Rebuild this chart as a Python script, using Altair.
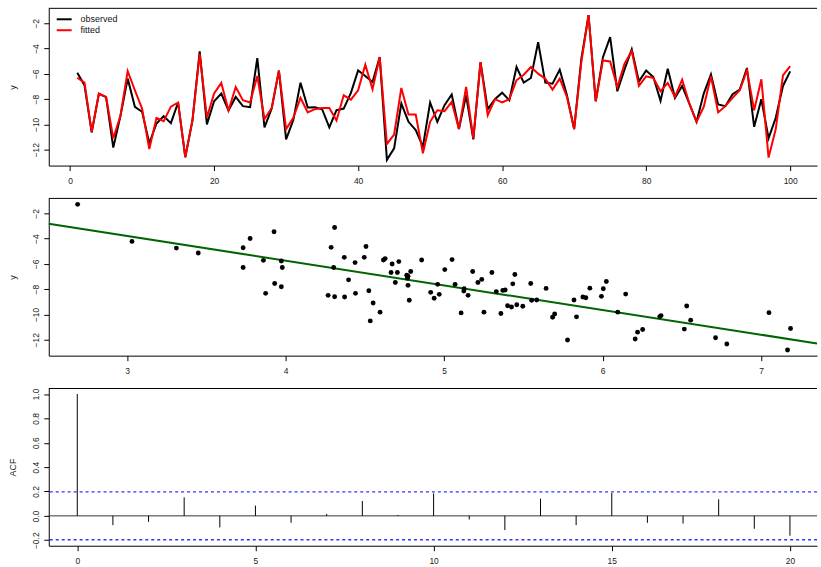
import altair as alt
import pandas as pd

# ---------------- data ----------------
t = list(range(1, 101))
observed = [-5.91, -6.9, -10.64, -7.59, -7.85, -11.84, -9.32, -6.38, -8.61, -9.0,
            -11.5, -9.93, -9.35, -9.9, -8.27, -12.6, -9.66, -4.23, -10.0, -8.17,
            -7.56, -8.9, -7.83, -8.56, -8.64, -4.76, -10.24, -8.75, -5.75, -11.19,
            -9.66, -6.7, -8.67, -8.64, -8.8, -10.24, -8.88, -8.75, -7.51, -5.73,
            -6.17, -6.65, -4.68, -12.81, -11.9, -8.35, -9.8, -10.45, -11.76, -8.27,
            -9.8, -8.48, -7.64, -10.37, -7.7, -11.19, -5.07, -8.8, -8.01, -7.49,
            -8.09, -5.46, -6.7, -6.33, -3.5, -6.7, -6.78, -5.67, -7.7, -10.37,
            -4.81, -1.35, -8.17, -4.68, -3.1, -7.38, -5.65, -4.07, -6.6, -5.73,
            -6.25, -8.14, -5.6, -7.9, -6.96, -8.35, -9.8, -7.56, -6.04, -8.43,
            -8.56, -7.62, -7.25, -5.54, -10.19, -8.01, -11.1, -9.48, -6.96, -5.81]
fitted = [-6.31, -6.7, -10.6, -7.56, -7.82, -11.1, -9.3, -5.78, -7.3, -8.75,
          -11.95, -9.48, -9.74, -8.6, -8.27, -12.6, -9.66, -4.42, -9.45, -7.56,
          -6.72, -8.9, -7.04, -8.09, -8.27, -6.17, -9.58, -8.7, -5.75, -10.37,
          -9.48, -7.9, -9.06, -8.8, -8.7, -8.7, -9.69, -7.7, -8.04, -7.3,
          -5.28, -7.22, -4.68, -11.55, -10.8, -7.12, -9.22, -9.22, -12.29, -9.8,
          -8.88, -8.96, -8.22, -10.37, -7.04, -11.1, -5.07, -9.27, -8.01, -8.27,
          -8.01, -6.51, -6.07, -5.46, -5.99, -6.38, -7.25, -6.38, -7.83, -10.37,
          -5.07, -1.35, -8.17, -4.94, -5.02, -7.04, -5.2, -4.2, -6.96, -6.2,
          -6.33, -7.38, -6.72, -7.83, -6.46, -8.35, -9.8, -8.61, -6.2, -9.06,
          -8.56, -7.9, -7.3, -5.73, -8.88, -6.43, -12.63, -10.37, -6.12, -5.39]

scatter_x = [2.688, 3.031, 3.311, 3.449, 3.732, 3.732, 3.776, 3.860, 3.927, 3.874,
             3.931, 3.973, 3.979, 3.973, 4.309, 4.287, 4.303, 4.268, 4.309, 4.370,
             4.397, 4.372, 4.438, 4.441, 4.507, 4.496, 4.525, 4.552, 4.534, 4.596,
             4.617, 4.628, 4.672, 4.714, 4.665, 4.705, 4.692, 4.764, 4.772, 4.789,
             4.768, 4.772, 4.780, 4.858, 4.915, 4.937, 4.959, 4.969, 5.004, 5.050,
             5.069, 5.107, 5.124, 5.126, 5.151, 5.180, 5.213, 5.237, 5.251, 5.301,
             5.329, 5.358, 5.370, 5.385, 5.400, 5.425, 5.433, 5.446, 5.458, 5.496,
             5.546, 5.552, 5.584, 5.643, 5.684, 5.697, 5.778, 5.819, 5.835, 5.875,
             5.894, 5.919, 5.992, 6.004, 6.023, 6.095, 6.145, 6.205, 6.220, 6.252,
             6.360, 6.368, 6.515, 6.530, 6.555, 6.712, 6.783, 7.049, 7.166, 7.185]
scatter_y = [-1.29, -4.22, -4.75, -5.14, -4.72, -6.29, -3.99, -5.72, -3.46, -8.33,
             -7.55, -5.77, -6.29, -7.81, -3.12, -4.69, -6.29, -8.49, -8.60, -5.48,
             -7.26, -8.62, -5.90, -8.33, -4.62, -5.48, -8.13, -9.09, -10.51, -9.82,
             -5.69, -5.58, -6.01, -5.82, -6.68, -6.68, -7.47, -6.89, -6.97, -6.60,
             -7.13, -7.70, -8.88, -5.69, -8.25, -8.72, -7.62, -8.41, -6.45, -5.66,
             -7.62, -9.88, -8.15, -7.97, -8.49, -6.60, -7.47, -7.23, -9.82, -6.68,
             -8.19, -9.93, -8.10, -8.07, -9.31, -9.41, -7.58, -6.84, -9.23, -9.35,
             -7.55, -8.88, -8.86, -7.94, -10.22, -9.96, -12.02, -8.86, -10.19, -8.62,
             -8.68, -7.92, -8.57, -7.97, -7.39, -9.82, -8.39, -11.94, -11.40, -11.19,
             -10.17, -10.09, -11.16, -9.33, -10.45, -11.84, -12.34, -9.86, -12.81, -11.11]
reg_intercept = 2.064
reg_slope = -1.953

lags = list(range(21))
acf_values = [1.0, -0.076, -0.049, 0.152, -0.095, 0.084, -0.057, 0.016, 0.122, 0.008,
              0.184, -0.03, -0.117, 0.141, -0.076, 0.188, -0.057, -0.063, 0.136, -0.106,
              -0.163]
ci_level = 0.196

series_labels = ["observed", "fitted"]
series_colors = ["black", "red"]

ts_ticks = [0, 20, 40, 60, 80, 100]
y_ticks = [-12, -10, -8, -6, -4, -2]
sc_ticks = [3, 4, 5, 6, 7]
acf_xticks = [0, 5, 10, 15, 20]
acf_yticks = [-0.2, 0.0, 0.2, 0.4, 0.6, 0.8, 1.0]

# ---------------- layout ----------------
FONT = "Liberation Sans"
W, H = 772, 158
one = pd.DataFrame({"a": [0]})


def xaxis(vals, fmt):
    return alt.Axis(values=vals, title=None, format=fmt, labelPadding=6)


def yaxis(vals, title, fmt):
    return alt.Axis(values=vals, title=title, format=fmt, labelAngle=-90,
                    labelAlign="center", labelBaseline="bottom", labelPadding=3,
                    titleX=-36, titleAngle=-90, titleBaseline="middle")


def top_border():
    return alt.Chart(one).mark_rule(color="black", strokeWidth=1).encode(
        x=alt.value(0), x2=alt.value(W), y=alt.value(0))


# Panel 1: time series
ts_df = pd.DataFrame({"t": t, "observed": observed, "fitted": fitted})
xs1 = alt.Scale(domain=[-2.96, 103.73], nice=False, zero=False)
ys = alt.Scale(domain=[-13.26, -0.82], nice=False, zero=False)
xa1 = xaxis(ts_ticks, "d")
ya1 = yaxis(y_ticks, "y", "d")

obs_line = alt.Chart(ts_df).mark_line(color=series_colors[0], strokeWidth=2).encode(
    x=alt.X("t:Q", scale=xs1, axis=xa1), y=alt.Y("observed:Q", scale=ys, axis=ya1))
fit_line = alt.Chart(ts_df).mark_line(color=series_colors[1], strokeWidth=2).encode(
    x=alt.X("t:Q", scale=xs1, axis=xa1), y=alt.Y("fitted:Q", scale=ys, axis=ya1))

legend_layers = []
for i, (lab, col) in enumerate(zip(series_labels, series_colors)):
    yy = 11 + 11 * i
    legend_layers.append(alt.Chart(one).mark_rule(color=col, strokeWidth=2).encode(
        x=alt.value(8), x2=alt.value(23), y=alt.value(yy)))
    legend_layers.append(alt.Chart(one).mark_text(
        align="left", baseline="middle", fontSize=9, font=FONT, color="#111").encode(
        x=alt.value(32), y=alt.value(yy), text=alt.value(lab)))

p1 = alt.layer(top_border(), obs_line, fit_line, *legend_layers).properties(width=W, height=H)

# Panel 2: scatter with regression line
sc_df = pd.DataFrame({"x": scatter_x, "y": scatter_y})
x2dom = [2.506, 7.352]
xs2 = alt.Scale(domain=x2dom, nice=False, zero=False)
xa2 = xaxis(sc_ticks, "d")
ya2 = yaxis(y_ticks, "y", "d")
pts = alt.Chart(sc_df).mark_circle(color="black", size=24, opacity=1).encode(
    x=alt.X("x:Q", scale=xs2, axis=xa2), y=alt.Y("y:Q", scale=ys, axis=ya2))
line_df = pd.DataFrame({"x": x2dom, "y": [reg_intercept + reg_slope * v for v in x2dom]})
reg = alt.Chart(line_df).mark_line(color="#006400", strokeWidth=2).encode(
    x=alt.X("x:Q", scale=xs2, axis=xa2), y=alt.Y("y:Q", scale=ys, axis=ya2))
p2 = alt.layer(top_border(), reg, pts).properties(width=W, height=H)

# Panel 3: ACF
acf_df = pd.DataFrame({"lag": lags, "acf": acf_values, "zero": [0.0] * len(lags)})
xs3 = alt.Scale(domain=[-0.8, 20.76], nice=False, zero=False)
ys3 = alt.Scale(domain=[-0.245, 1.045], nice=False, zero=False)
xa3 = xaxis(acf_xticks, "d")
ya3 = yaxis(acf_yticks, "ACF", ".1f")
ci_df = pd.DataFrame({"ci": [ci_level, -ci_level]})
zero_df = pd.DataFrame({"z": [0.0]})
ci_lines = alt.Chart(ci_df).mark_rule(color="#3333ff", strokeWidth=1.3, strokeDash=[3, 3]).encode(
    y=alt.Y("ci:Q", scale=ys3, axis=ya3))
zero_line = alt.Chart(zero_df).mark_rule(color="#333333", strokeWidth=1).encode(
    y=alt.Y("z:Q", scale=ys3, axis=ya3))
bars = alt.Chart(acf_df).mark_rule(color="black", strokeWidth=1).encode(
    x=alt.X("lag:Q", scale=xs3, axis=xa3), y=alt.Y("acf:Q", scale=ys3, axis=ya3), y2="zero:Q")
p3 = alt.layer(top_border(), zero_line, ci_lines, bars).properties(width=W, height=H)

chart = alt.vconcat(p1, p2, p3, spacing=33, bounds="flush").properties(
    padding={"left": 9, "top": 6, "right": 0, "bottom": 0}
).configure_view(stroke=None).configure_axis(
    labelFont=FONT, titleFont=FONT, labelFontSize=8.5, titleFontSize=9,
    labelColor="#222", titleColor="#222", titleFontWeight="normal",
    domainColor="black", tickColor="black", tickSize=5, grid=False,
    domainWidth=1, tickWidth=1
)

chart.save("out.html", embed_options={"renderer": "svg", "actions": False})
